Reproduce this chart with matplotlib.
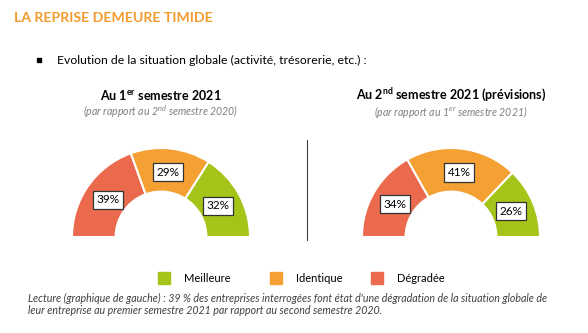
import numpy as np
import matplotlib.pyplot as plt
from matplotlib.patches import Rectangle

plt.rcParams['font.family'] = ['Lato', 'DejaVu Sans']
plt.rcParams['mathtext.fontset'] = 'custom'
plt.rcParams['mathtext.rm'] = 'Lato'
plt.rcParams['mathtext.it'] = 'Lato:italic'
plt.rcParams['mathtext.bf'] = 'Lato:bold'

# data
categories = ["Dégradée", "Identique", "Meilleure"]
colors = ["#EB6A4E", "#F5A033", "#A5C419"]
s1_values = [39, 29, 32]   # 1er semestre 2021
s2_values = [34, 41, 26]   # 2nd semestre 2021 (prévisions)
legend_order = ["Meilleure", "Identique", "Dégradée"]

W, H = 588, 333
fig = plt.figure(figsize=(W / 100, H / 100), dpi=100)

# background axes in pixel coordinates for all the text
bg = fig.add_axes([0, 0, 1, 1])
bg.set_xlim(0, W)
bg.set_ylim(H, 0)
bg.axis('off')

bg.text(14, 18, "LA REPRISE DEMEURE TIMIDE", color="#F39A2E", fontsize=10.2,
        fontweight='bold', va='center')
bg.add_patch(Rectangle((37, 58), 3.5, 3.5, color='black'))
bg.text(57, 60, "Evolution de la situation globale (activité, trésorerie, etc.) :",
        fontsize=8.8, va='center')


def half_donut(values, cx, cy, r, title, subtitle):
    ax = fig.add_axes([(cx - r) / W, (H - cy - r) / H, 2 * r / W, 2 * r / H])
    vals = values + [sum(values)]
    cols = colors + ['none']
    wedges, _ = ax.pie(vals, colors=cols, startangle=180, counterclock=False,
                       radius=1.0, wedgeprops=dict(width=0.49, edgecolor='white', linewidth=1.5))
    wedges[-1].set_edgecolor('none')
    ax.set_xlim(-1, 1)
    ax.set_ylim(-1, 1)
    ax.set_aspect('equal')
    for w, v in zip(wedges[:-1], values):
        mid = np.deg2rad((w.theta1 + w.theta2) / 2)
        ax.text(0.73 * np.cos(mid), 0.73 * np.sin(mid), f"{v}%", ha='center', va='center',
                fontsize=8.5, bbox=dict(boxstyle='square,pad=0.3', fc='white', ec='#333333', lw=0.9))
    bg.text(cx, 95, title, ha='center', va='center', fontsize=9, fontweight='bold')
    bg.text(cx, 112, subtitle, ha='center', va='center', fontsize=7.6, style='italic',
            color='#7F7F7F')


half_donut(s1_values, 161, 237, 89, r"Au 1$^{\mathbf{er}}$ semestre 2021",
           r"(par rapport au 2$^{\mathit{nd}}$ semestre 2020)")
half_donut(s2_values, 451, 237, 89, r"Au 2$^{\mathbf{nd}}$ semestre 2021 (prévisions)",
           r"(par rapport au 1$^{\mathit{er}}$ semestre 2021)")

# divider
bg.plot([307, 307], [140, 240], color='#444444', lw=0.8)

# legend
legend_x = [158, 270, 371]
for name, x in zip(legend_order, legend_x):
    c = colors[categories.index(name)]
    bg.add_patch(Rectangle((x, 272), 12, 12, color=c))
    bg.text(x + 26, 278.5, name, fontsize=8, va='center')

bg.text(28, 298, "Lecture (graphique de gauche) : 39 % des entreprises interrogées font état "
        "d'une dégradation de la situation globale de", fontsize=7.7, style='italic',
        color='#404040', va='center')
bg.text(28, 311, "leur entreprise au premier semestre 2021 par rapport au second semestre 2020.",
        fontsize=7.7, style='italic', color='#404040', va='center')

fig.savefig("out.png", dpi=100)
